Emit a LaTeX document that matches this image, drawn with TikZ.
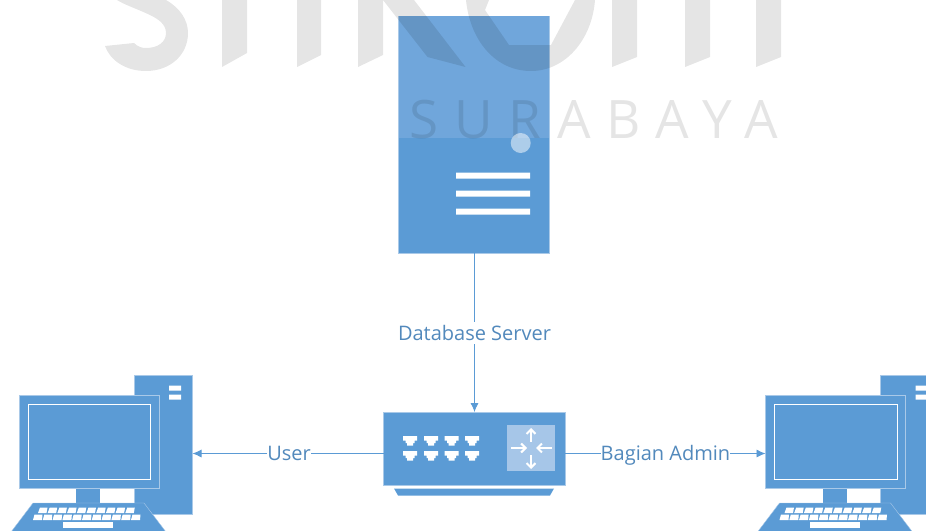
\documentclass[tikz,border=0pt]{standalone}
\usepackage{fontspec}
\setmainfont{Open Sans}
\newfontfamily\wmfont[LetterSpace=30]{Open Sans}
\definecolor{blu}{HTML}{5B9BD5}
\definecolor{blutop}{HTML}{70A6DB}
\definecolor{edge}{HTML}{A9C9E8}
\definecolor{lbl}{HTML}{5289BC}
\definecolor{rtr}{HTML}{A6C6E8}
\usetikzlibrary{arrows.meta}
\tikzset{
 x=1pt,y=-1pt,
 solid box/.style={fill=blu,draw=edge,line width=.6pt,inner sep=0pt,outer sep=0pt,anchor=north west},
 wm/.style={fill=black,fill opacity=.1,draw=none},
 wire/.style={draw=blu,line width=.8pt},
 tip/.style={-{Latex[length=9pt,width=8pt]}},
 lab/.style={font=\fontsize{20}{22}\selectfont,text=lbl,fill=white,inner xsep=0pt,inner ysep=1pt,text height=17pt,text depth=3pt},
 wbar/.style={fill=white,draw=none},
 rarrow/.style={draw=white,line width=2pt,-{Straight Barb[length=4.5pt,width=9pt]}},
 pics/pc/.style={code={
  \node[solid box,minimum width=58.5pt,minimum height=139pt] (-tower) at (134,375) {};
  \fill[wbar] (169,385.5) rectangle (181,390.5) (169,394.5) rectangle (181,399.5);
  \fill[blu] (76,486) rectangle (100,505);
  \path[fill=blu,draw=edge,line width=.4pt] (33,503) -- (144,503) -- (166,532) -- (11,532) -- cycle;
  \node[solid box,minimum width=140pt,minimum height=93pt] (-monitor) at (19,395) {};
  \draw[white,line width=.7pt] (28,404) rectangle (150.5,479);
  \foreach \i in {0,...,9}{
    \fill[wbar] ({40+\i*9.7},507.5) -- ({47.5+\i*9.7},507.5) -- ({46.5+\i*9.7},513) -- ({38+\i*9.7},513) -- cycle;
  }
  \foreach \i in {0,...,10}{
    \fill[wbar] ({\i*9.8+34.5},514.5) -- ({\i*9.8+42.5},514.5) -- ({\i*9.8+42},520) -- ({\i*9.8+33},520) -- cycle;
  }
  \fill[wbar] (63,522) rectangle (113,527.5);
 }}
}
\begin{document}
\begin{tikzpicture}
\useasboundingbox (0,0) rectangle (926,530);
\clip (0,0) rectangle (926,530);
% server
\node[solid box,minimum width=151pt,minimum height=237pt] (server) at (398.5,16) {};
\fill[blutop] (399,16.3) rectangle (549.2,138);
% watermark
\path[wm] (105,46) -- (134,43) .. controls (138,47) and (142,48) .. (146,48) .. controls (158,48) and (166,42) .. (166,33) .. controls (166,24) and (158,19) .. (150,15) .. controls (135,8) and (125,5) .. (117,0) -- (166,0) .. controls (180,8) and (188,20) .. (188,33) .. controls (188,55) and (170,71) .. (146,71) .. controls (125,71) and (110,60) .. (105,46) -- cycle;
\path[wm] (222,0) -- (247,0) -- (247,53) -- (222,67) -- cycle;
\path[wm] (297,0) -- (321,0) -- (321,55) -- (297,67) -- cycle;
\path[wm] (358,0) -- (383,0) -- (383,55) -- (358,67) -- cycle;
\path[wm] (383,0) -- (414,0) -- (465.5,67) -- (427.5,57) -- cycle;
\path[wm] (466,0) .. controls (470,40) and (495,71) .. (531,71) .. controls (565,71) and (592,40) .. (595,0) -- (575,0) -- (551,45) -- (509,45) -- (485,10) -- (489,0) -- cycle;
\path[wm] (612,0) -- (637,0) -- (637,57) -- (612,67) -- cycle;
\path[wm] (685,0) -- (710,0) -- (710,57) -- (685,67) -- cycle;
\path[wm] (756,0) -- (781,0) -- (781,57) -- (756,67) -- cycle;
\node[anchor=base west,inner sep=0pt,text=black,text opacity=.1,font=\fontsize{53}{53}\selectfont\wmfont] (wmtext) at (409,138) {SURABAYA};
% server details
\fill[fill=white,fill opacity=.5] (520.7,143) circle (10);
\fill[wbar] (456,172.5) rectangle (530,178.5) (456,190.5) rectangle (530,196.5) (456,208.5) rectangle (530,214.5);
% switch
\node[solid box,minimum width=181.5pt,minimum height=73pt] (switch) at (383.5,412) {};
\path[fill=blu] (394,488.5) -- (554,488.5) -- (550,495.5) -- (398,495.5) -- cycle;
\node[fill=rtr,inner sep=0pt,minimum width=48pt,minimum height=46pt,anchor=north west] (router) at (507,425) {};
\foreach \x in {410,431,451.5,472} \foreach \y in {436,451}{
  \fill[wbar] (\x-7,\y) -- (\x+7,\y) -- (\x+7,\y+4.5) -- (\x+4.5,\y+4.5) -- (\x+4.5,\y+7) -- (\x+3,\y+7) -- (\x+3,\y+9.5) -- (\x-3,\y+9.5) -- (\x-3,\y+7) -- (\x-4.5,\y+7) -- (\x-4.5,\y+4.5) -- (\x-7,\y+4.5) -- cycle;
}
\draw[rarrow] (531,442) -- (531,428);
\draw[rarrow] (531,455) -- (531,469);
\draw[rarrow] (511,448) -- (527,448);
\draw[rarrow] (552,448) -- (536,448);
% computers
\pic (l) at (0,0) {pc};
\pic (r) at (746.5,0) {pc};
% connectors
\node[lab] (ldb) at (474.5,333) {Database Server};
\node[lab] (luser) at (289,453.5) {User};
\node[lab] (ladmin) at (665.5,453.5) {Bagian Admin};
\draw[wire] (server.south -| ldb) -- (ldb);
\draw[wire,tip] (ldb) -- (ldb |- switch.north);
\draw[wire] (switch.west |- luser) -- (luser);
\draw[wire,tip] (luser) -- (l-tower.east |- luser);
\draw[wire] (switch.east |- ladmin) -- (ladmin);
\draw[wire,tip] (ladmin) -- (r-monitor.west |- ladmin);
\end{tikzpicture}
\end{document}
